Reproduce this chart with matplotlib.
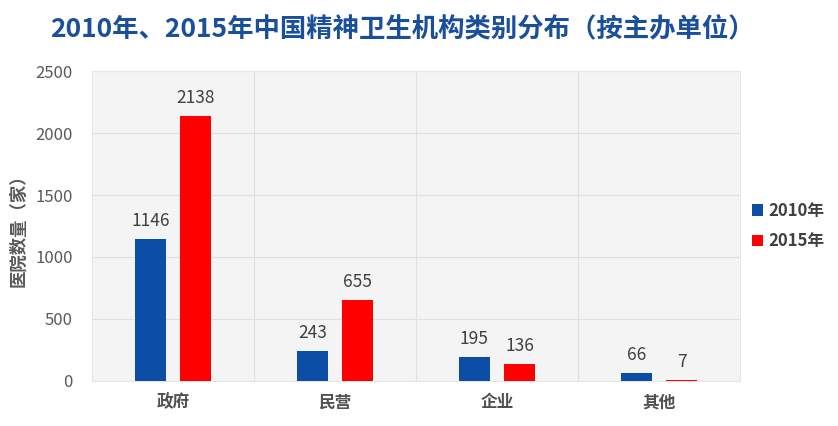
import matplotlib
matplotlib.use("Agg")
import matplotlib.pyplot as plt
import numpy as np

plt.rcParams['font.family'] = ['Noto Sans CJK SC', 'DejaVu Sans']

# data
categories = ["政府", "民营", "企业", "其他"]
vals_2010 = [1146, 243, 195, 66]
vals_2015 = [2138, 655, 136, 7]
series_names = ["2010年", "2015年"]

blue = "#0c4da6"
red = "#ff0000"

fig = plt.figure(figsize=(8.38, 4.26), dpi=100)
ax = fig.add_axes([0.11, 0.106, 0.773, 0.727])
ax.set_facecolor("#f4f4f4")

x = np.arange(len(categories))
w = 0.19
off = 0.14
b1 = ax.bar(x - off, vals_2010, w, color=blue, label=series_names[0], zorder=3)
b2 = ax.bar(x + off, vals_2015, w, color=red, label=series_names[1], zorder=3)

# value labels on top of bars
for bars in (b1, b2):
    for r in bars:
        ax.text(r.get_x() + r.get_width() / 2, r.get_height() + 70,
                f"{int(r.get_height())}", ha="center", va="bottom",
                fontsize=12.5, color="#404040")

ax.set_xlim(-0.5, len(categories) - 0.5)
ax.set_ylim(0, 2500)
ax.set_yticks(range(0, 2501, 500))
ax.set_xticks(x)
ax.set_xticklabels(categories, fontsize=12, color="#505050", fontweight="bold")
ax.tick_params(axis="y", labelsize=12, labelcolor="#595959", length=0, pad=14)
ax.tick_params(axis="x", length=0, pad=9)

# horizontal grid + vertical dividers between categories
ax.yaxis.grid(True, color="#e0e0e0", linewidth=0.8, zorder=0)
for xv in x[:-1] + 0.5:
    ax.axvline(xv, color="#e0e0e0", linewidth=0.8, zorder=0)
for s in ax.spines.values():
    s.set_color("#e6e6e6")
    s.set_linewidth(0.8)

ax.set_ylabel("医院数量（家）", fontsize=12.5, color="#595959", fontweight="bold", labelpad=6)

fig.text(0.48, 0.93, "2010年、2015年中国精神卫生机构类别分布（按主办单位）",
         ha="center", va="center", fontsize=19, fontweight="bold", color="#1a4f9c")

leg = ax.legend(loc="center left", bbox_to_anchor=(0.995, 0.5), frameon=False,
                handlelength=0.7, handleheight=0.7, handletextpad=0.3,
                labelspacing=0.75, prop={"size": 12, "weight": "bold"})
for t in leg.get_texts():
    t.set_color("#404040")

fig.savefig("out.png", dpi=100, facecolor="white")
